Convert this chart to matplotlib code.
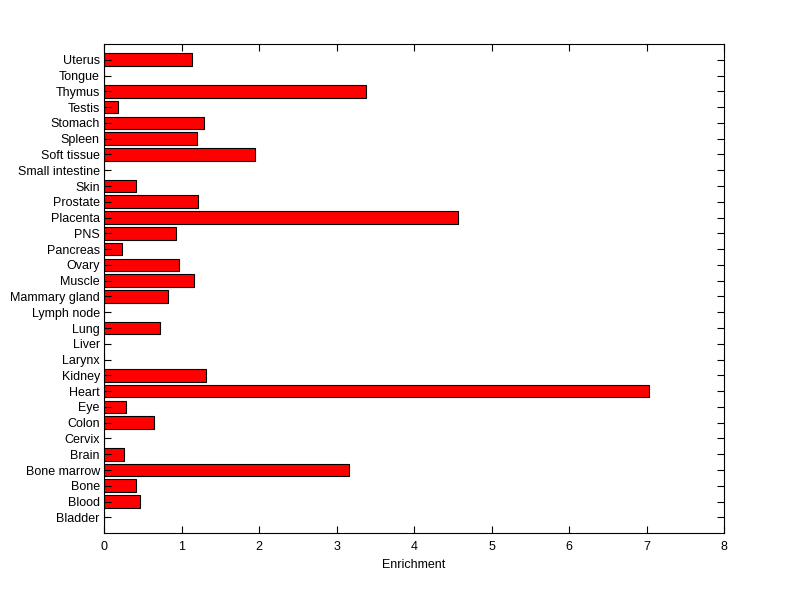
import matplotlib
matplotlib.use('Agg')
import matplotlib.pyplot as plt

# tissue enrichment, bottom to top
tissues = ['Bladder', 'Blood', 'Bone', 'Bone marrow', 'Brain', 'Cervix', 'Colon',
           'Eye', 'Heart', 'Kidney', 'Larynx', 'Liver', 'Lung', 'Lymph node',
           'Mammary gland', 'Muscle', 'Ovary', 'Pancreas', 'PNS', 'Placenta',
           'Prostate', 'Skin', 'Small intestine', 'Soft tissue', 'Spleen',
           'Stomach', 'Testis', 'Thymus', 'Tongue', 'Uterus']
enrichment = [0, 0.47, 0.41, 3.16, 0.26, 0, 0.65,
              0.28, 7.03, 1.32, 0, 0, 0.72, 0,
              0.83, 1.16, 0.97, 0.23, 0.93, 4.57,
              1.21, 0.41, 0, 1.95, 1.20,
              1.29, 0.18, 3.38, 0, 1.14]

plt.rcParams['font.family'] = ['Liberation Sans', 'DejaVu Sans']
plt.rcParams['font.size'] = 9

fig = plt.figure(figsize=(8, 5.99), dpi=100)
ax = fig.add_axes([0.13, 0.11, 0.775, 0.8165])

pos = list(range(1, len(tissues) + 1))
ax.barh(pos, enrichment, height=0.8, color='red', edgecolor='black', linewidth=0.8)

ax.set_xlim(0, 8)
ax.set_ylim(0, len(tissues) + 1)
ax.set_yticks(pos)
ax.set_yticklabels(tissues)
ax.set_xticks(range(0, 9))
ax.set_xlabel('Enrichment', labelpad=4)
ax.tick_params(axis='x', direction='in', top=True, length=5, width=0.8, pad=6)
ax.tick_params(axis='y', direction='in', right=True, length=5, width=0.8, pad=3)
for s in ax.spines.values():
    s.set_linewidth(0.8)

fig.savefig('out.png', dpi=100)
